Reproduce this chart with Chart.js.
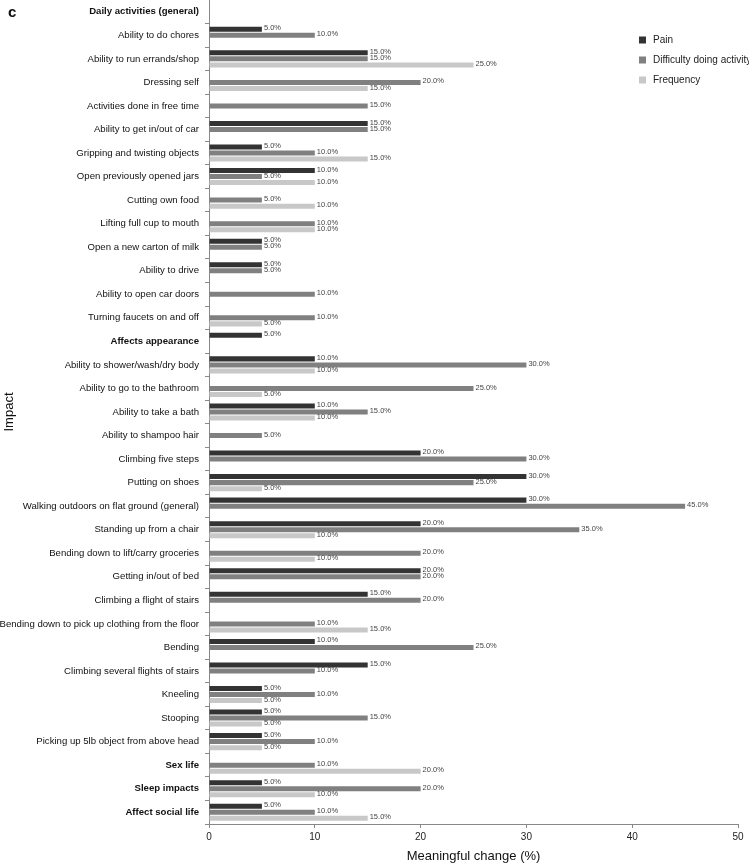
<!DOCTYPE html>
<html>
<head>
<meta charset="utf-8">
<script src="https://cdn.jsdelivr.net/npm/chart.js@4.4.1/dist/chart.umd.min.js"></script>
<style>
  body { margin: 0; background: #fff; }
  #wrap { position: relative; width: 749px; height: 864px; }
  #panel { position: absolute; left: 8px; top: 3px; font: bold 15px "Liberation Sans", Arial, sans-serif; color: #111; }
</style>
</head>
<body>
<div id="wrap">
  <canvas id="chart"></canvas>
  <div id="panel">c</div>
</div>
<script>
// Categories (top to bottom)
const impacts = [
    'Daily activities (general)',
    'Ability to do chores',
    'Ability to run errands/shop',
    'Dressing self',
    'Activities done in free time',
    'Ability to get in/out of car',
    'Gripping and twisting objects',
    'Open previously opened jars',
    'Cutting own food',
    'Lifting full cup to mouth',
    'Open a new carton of milk',
    'Ability to drive',
    'Ability to open car doors',
    'Turning faucets on and off',
    'Affects appearance',
    'Ability to shower/wash/dry body',
    'Ability to go to the bathroom',
    'Ability to take a bath',
    'Ability to shampoo hair',
    'Climbing five steps',
    'Putting on shoes',
    'Walking outdoors on flat ground (general)',
    'Standing up from a chair',
    'Bending down to lift/carry groceries',
    'Getting in/out of bed',
    'Climbing a flight of stairs',
    'Bending down to pick up clothing from the floor',
    'Bending',
    'Climbing several flights of stairs',
    'Kneeling',
    'Stooping',
    'Picking up 5lb object from above head',
    'Sex life',
    'Sleep impacts',
    'Affect social life'
];

// Section headings shown in bold
const headings = ['Daily activities (general)', 'Affects appearance', 'Sex life', 'Sleep impacts', 'Affect social life'];

// Meaningful change (%) per impact
const pain = [null, 5, 15, null, null, 15, 5, 10, null, null, 5, 5, null, null, 5,
              10, null, 10, null, 20, 30, 30, 20, null, 20, 15, null, 10, 15, 5, 5, 5, null, 5, 5];
const difficulty = [null, 10, 15, 20, 15, 15, 10, 5, 5, 10, 5, 5, 10, 10, null,
                    30, 25, 15, 5, 30, 25, 45, 35, 20, 20, 20, 10, 25, 10, 10, 15, 10, 10, 20, 10];
const frequency = [null, null, 25, 15, null, null, 15, 10, 10, 10, null, null, null, 5, null,
                   10, 5, 10, null, null, 5, null, 10, 10, null, null, 15, null, null, 5, 5, 5, 20, 10, 15];

const xTicks = [0, 10, 20, 30, 40, 50];

const FONT = '"Liberation Sans", Arial, sans-serif';

// Value labels to the right of each bar
const valueLabels = {
    id: 'valueLabels',
    afterDatasetsDraw(chart) {
        const ctx = chart.ctx;
        ctx.save();
        ctx.font = '7.5px ' + FONT;
        ctx.fillStyle = '#444';
        ctx.textAlign = 'left';
        ctx.textBaseline = 'middle';
        chart.data.datasets.forEach((ds, i) => {
            const meta = chart.getDatasetMeta(i);
            meta.data.forEach((bar, j) => {
                const v = ds.data[j];
                if (v === null || v === undefined) return;
                ctx.fillText(v.toFixed(1) + '%', bar.x + 2, bar.y - 1);
            });
        });
        ctx.restore();
    }
};

// Vertical legend in the upper right
const sideLegend = {
    id: 'sideLegend',
    afterDraw(chart) {
        const ctx = chart.ctx;
        ctx.save();
        ctx.font = '10px ' + FONT;
        ctx.textBaseline = 'middle';
        ctx.textAlign = 'left';
        chart.data.datasets.forEach((ds, i) => {
            const y = 40 + i * 20;
            ctx.fillStyle = ds.backgroundColor;
            ctx.fillRect(639, y - 3.5, 7, 7);
            ctx.fillStyle = '#222';
            ctx.fillText(ds.label, 653, y);
        });
        ctx.restore();
    }
};

const ctx = document.getElementById('chart').getContext('2d');
new Chart(ctx, {
    type: 'bar',
    data: {
        labels: impacts,
        datasets: [
            { label: 'Pain', data: pain, backgroundColor: '#333333' },
            { label: 'Difficulty doing activity', data: difficulty, backgroundColor: '#808080' },
            { label: 'Frequency', data: frequency, backgroundColor: '#c8c8c8' }
        ]
    },
    options: {
        indexAxis: 'y',
        responsive: true,
        maintainAspectRatio: false,
        animation: false,
        categoryPercentage: 0.77,
        barPercentage: 0.83,
        layout: { padding: { top: 0, right: 11, bottom: 0, left: 0 } },
        plugins: {
            legend: { display: false },
            tooltip: { enabled: false }
        },
        scales: {
            x: {
                min: 0,
                max: 50,
                afterBuildTicks: (s) => { s.ticks = xTicks.map(v => ({ value: v })); },
                afterFit: (s) => { s.height = 40; },
                grid: { drawOnChartArea: false, drawTicks: true, tickLength: 4, color: '#888' },
                border: { color: '#888' },
                ticks: { font: { family: FONT, size: 10 }, color: '#222', padding: 3 },
                title: {
                    display: true,
                    text: 'Meaningful change (%)',
                    font: { family: FONT, size: 13 },
                    color: '#111',
                    padding: { top: 0, bottom: 0 }
                }
            },
            y: {
                afterFit: (s) => {
                    s.width = 209;
                    s.paddingTop = 0;
                    s.paddingBottom = 0;
                },
                grid: { drawOnChartArea: false, drawTicks: true, tickLength: 4, color: '#888', offset: true },
                border: { color: '#888' },
                ticks: {
                    autoSkip: false,
                    padding: 6,
                    color: '#111',
                    font: (c) => ({
                        family: FONT,
                        size: 9.6,
                        weight: headings.includes(impacts[c.index]) ? 'bold' : 'normal'
                    })
                },
                title: {
                    display: true,
                    text: 'Impact',
                    font: { family: FONT, size: 13 },
                    color: '#111',
                    padding: { top: 2, bottom: 0 }
                }
            }
        }
    },
    plugins: [valueLabels, sideLegend]
});
</script>
</body>
</html>
